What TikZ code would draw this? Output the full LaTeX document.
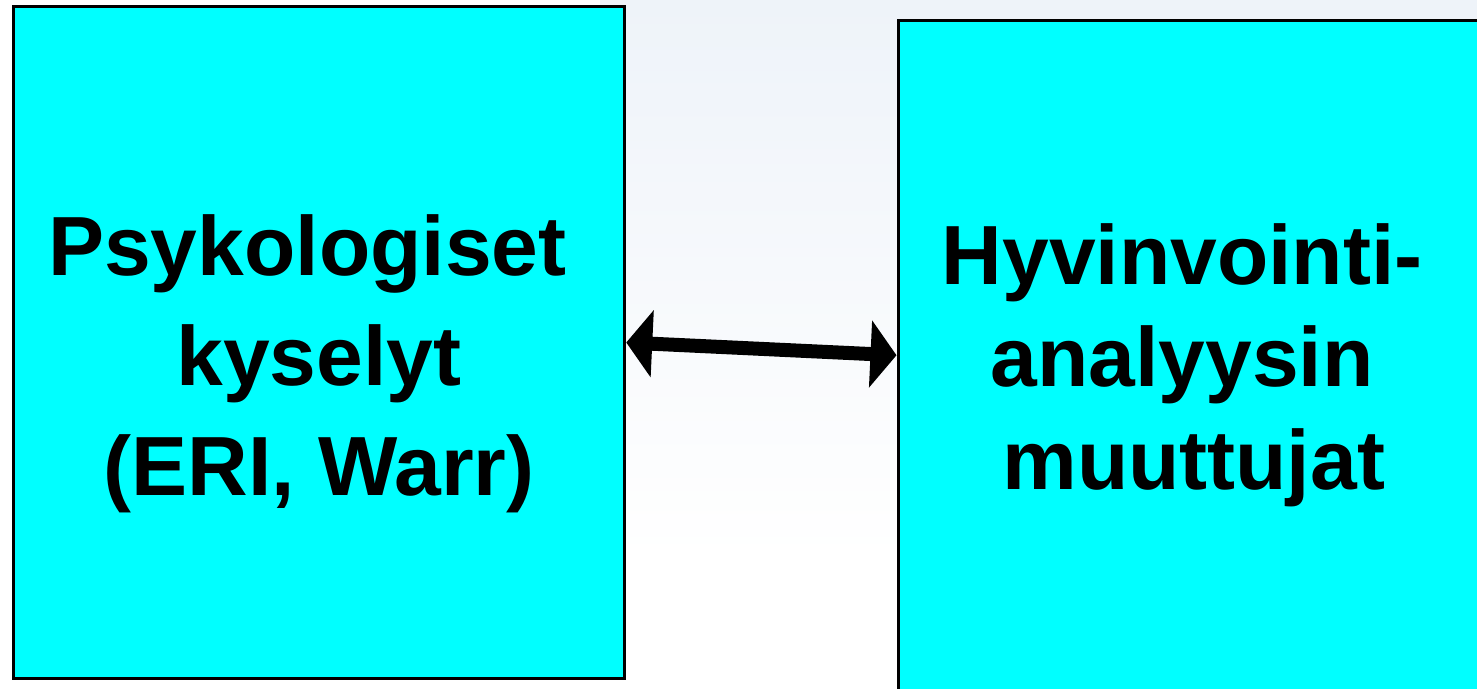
\documentclass[tikz,border=0pt]{standalone}
\usepackage{fontspec}
\setmainfont{Liberation Sans}
\usetikzlibrary{arrows.meta}
\definecolor{boxcyan}{RGB}{0,255,255}
\definecolor{haze}{RGB}{238,243,249}
\tikzset{
  panel/.style={draw=black, fill=boxcyan, line width=3.5pt, inner sep=0pt},
  paneltext/.style={align=center, inner sep=0pt, font=\bfseries\fontsize{84}{110}\selectfont},
  link/.style={line width=14pt, {Triangle[length=26pt,width=66pt]}-{Triangle[length=26pt,width=66pt]}}
}
\begin{document}
\begin{tikzpicture}[x=1pt,y=-1pt]
  \useasboundingbox (0,0) rectangle (1477,688);
  \fill[white] (0,0) rectangle (1477,688);
  \shade[top color=haze, bottom color=white] (600,0) rectangle (1477,560);
  \node[panel, minimum width=611pt, minimum height=672pt] (L) at (319,342.5) {};
  \node[panel, minimum width=600pt, minimum height=670pt, anchor=north west] (R) at (896.5,18.5) {};
  \node[paneltext] (Ltxt) at (319,364) {Psykologiset\hspace*{0.278em}\\kyselyt\hspace*{0.278em}\\(ERI, Warr)};
  \node[paneltext, font=\bfseries\fontsize{84}{102.5}\selectfont] (Rtxt) at (1182,365) {Hyvinvointi-\\analyysin\\\hspace*{0.278em}muuttujat};
  \draw[link] (L.east) -- (R.west);
\end{tikzpicture}
\end{document}
